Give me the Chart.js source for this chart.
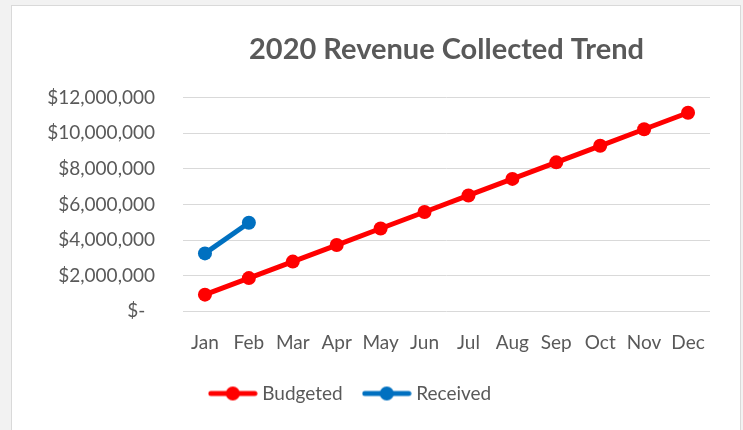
<!DOCTYPE html>
<html>
<head>
<meta charset="utf-8">
<script src="https://cdn.jsdelivr.net/npm/chart.js@4/dist/chart.umd.min.js"></script>
<style>
  html, body { margin: 0; padding: 0; background: #f2f2f2; }
  #box {
    position: absolute; left: 11px; top: 5px;
    width: 728px; height: 430px;
    background: #ffffff; border: 1px solid #d9d9d9;
  }
  #myChart { display: block; }
</style>
</head>
<body>
<div id="box"><canvas id="myChart" width="728" height="424"></canvas></div>
<script>
const months = ['Jan', 'Feb', 'Mar', 'Apr', 'May', 'Jun', 'Jul', 'Aug', 'Sep', 'Oct', 'Nov', 'Dec'];
const budgeted = [930000, 1860000, 2790000, 3720000, 4650000, 5580000, 6510000, 7440000, 8370000, 9300000, 10230000, 11160000];
const received = [3250000, 4970000, null, null, null, null, null, null, null, null, null, null];

const textColor = '#595959';
const fontFamily = 'Lato, "Open Sans", sans-serif';

// little line + dot marker for the legend, like Excel's
function legendMarker(color) {
    const c = document.createElement('canvas');
    c.width = 50;
    c.height = 16;
    const g = c.getContext('2d');
    g.strokeStyle = color;
    g.lineWidth = 5;
    g.lineCap = 'round';
    g.beginPath();
    g.moveTo(3, 8);
    g.lineTo(47, 8);
    g.stroke();
    g.fillStyle = color;
    g.beginPath();
    g.arc(25, 8, 7, 0, Math.PI * 2);
    g.fill();
    return c;
}

// Excel sits the legend a bit left of centre
const legendShift = {
    id: 'legendShift',
    afterLayout(chart) {
        const lg = chart.legend;
        lg.right = lg.left + lg.width - 30;
    }
};

const data = {
    labels: months,
    datasets: [
        {
            label: 'Budgeted',
            data: budgeted,
            borderColor: '#ff0000',
            backgroundColor: '#ff0000',
            borderWidth: 5,
            pointRadius: 7,
            pointHoverRadius: 7,
            pointBorderWidth: 0,
            tension: 0
        },
        {
            label: 'Received',
            data: received,
            borderColor: '#0070c0',
            backgroundColor: '#0070c0',
            borderWidth: 5,
            pointRadius: 7,
            pointHoverRadius: 7,
            pointBorderWidth: 0,
            tension: 0
        }
    ]
};

const config = {
    type: 'line',
    data: data,
    plugins: [legendShift],
    options: {
        responsive: false,
        animation: false,
        layout: {
            padding: { top: 26, right: 30, bottom: 17, left: 12 }
        },
        plugins: {
            title: {
                display: true,
                text: '2020 Revenue Collected Trend',
                color: textColor,
                fullSize: false,
                font: { family: fontFamily, size: 29, weight: 'bold' },
                padding: { top: 0, bottom: 31 }
            },
            legend: {
                position: 'bottom',
                labels: {
                    color: textColor,
                    font: { family: fontFamily, size: 19 },
                    usePointStyle: true,
                    pointStyleWidth: 40,
                    boxHeight: 14,
                    padding: 24,
                    generateLabels: (chart) => chart.data.datasets.map((ds, i) => ({
                        text: ds.label,
                        fillStyle: ds.borderColor,
                        strokeStyle: ds.borderColor,
                        lineWidth: 0,
                        pointStyle: legendMarker(ds.borderColor),
                        fontColor: textColor,
                        hidden: !chart.isDatasetVisible(i),
                        datasetIndex: i
                    }))
                }
            },
            tooltip: { enabled: false }
        },
        scales: {
            x: {
                offset: true,
                grid: { display: false },
                border: { display: false },
                ticks: {
                    color: textColor,
                    font: { family: fontFamily, size: 19 },
                    padding: 12,
                    maxRotation: 0
                },
                afterFit: (scale) => { scale.height -= 6; }
            },
            y: {
                min: 0,
                max: 12000000,
                grid: { color: '#d9d9d9', lineWidth: 1, drawTicks: false },
                border: { display: false },
                ticks: {
                    stepSize: 2000000,
                    color: textColor,
                    font: { family: fontFamily, size: 19 },
                    padding: 28,
                    callback: (v) => v === 0 ? '$-  ' : '$' + v.toLocaleString('en-US')
                },
                afterFit: (scale) => { scale.width = 159; }
            }
        }
    }
};

const ctx = document.getElementById('myChart').getContext('2d');
const myChart = new Chart(ctx, config);
</script>
</body>
</html>
